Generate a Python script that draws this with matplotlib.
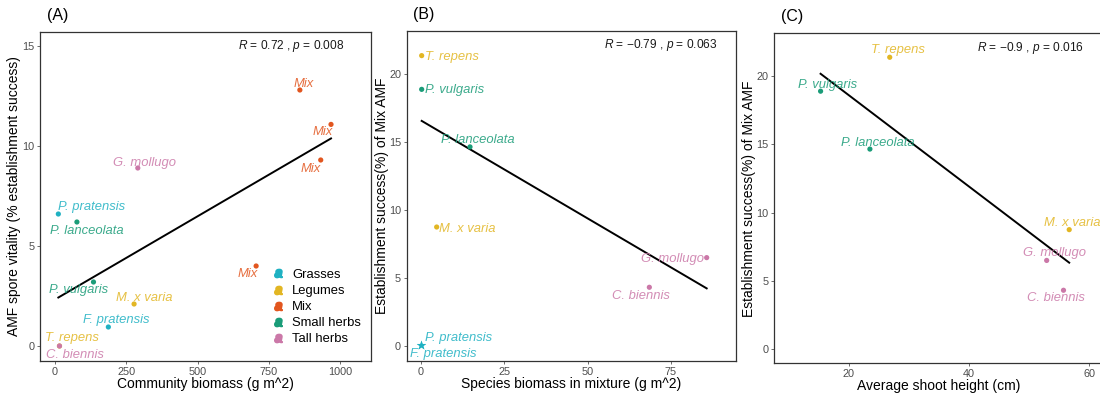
import numpy as np
import matplotlib
matplotlib.use("Agg")
import matplotlib.pyplot as plt
from matplotlib.lines import Line2D
from matplotlib.legend_handler import HandlerTuple

plt.rcParams['font.family'] = ['Liberation Sans', 'DejaVu Sans']
plt.rcParams['mathtext.fontset'] = 'custom'
plt.rcParams['mathtext.it'] = 'Liberation Sans:italic'
plt.rcParams['mathtext.rm'] = 'Liberation Sans'

# --- couleurs par groupe
group_colors = {
    'Grasses': '#1fb1c2',
    'Legumes': '#e2b623',
    'Mix': '#e2561f',
    'Small herbs': '#1a9c78',
    'Tall herbs': '#cb78a8',
}
group_order = ['Grasses', 'Legumes', 'Mix', 'Small herbs', 'Tall herbs']

# --- (A) communautés
species_a = ['Mix', 'Mix', 'Mix', 'Mix', 'G. mollugo', 'P. pratensis', 'P. lanceolata',
             'P. vulgaris', 'M. x varia', 'F. pratensis', 'T. repens', 'C. biennis']
group_a = ['Mix', 'Mix', 'Mix', 'Mix', 'Tall herbs', 'Grasses', 'Small herbs',
           'Small herbs', 'Legumes', 'Grasses', 'Legumes', 'Tall herbs']
community_biomass = [858, 967, 931, 705, 291, 13, 78, 136, 278, 188, 17, 17]
spore_vitality = [12.8, 11.08, 9.3, 4.0, 8.9, 6.6, 6.2, 3.2, 2.1, 0.95, 0.0, 0.0]

# --- (B) / (C) espèces en mélange
species_bc = ['T. repens', 'P. vulgaris', 'P. lanceolata', 'M. x varia', 'G. mollugo', 'C. biennis']
group_bc = ['Legumes', 'Small herbs', 'Small herbs', 'Legumes', 'Tall herbs', 'Tall herbs']
establishment = [21.35, 18.87, 14.64, 8.75, 6.5, 4.32]
species_biomass = [0.2, 0.2, 14.7, 4.7, 85.7, 68.5]
shoot_height = [26.8, 15.3, 23.5, 56.65, 52.9, 55.7]

# graminées (absentes de la régression, B seulement)
grass_species = ['P. pratensis', 'F. pratensis']
grass_biomass = [0.0, 0.0]
grass_establishment = [0.1, 0.1]

stats_text = {
    'A': '$R$ = 0.72 , $p$ = 0.008',
    'B': '$R$ = \u22120.79 , $p$ = 0.063',
    'C': '$R$ = \u22120.9 , $p$ = 0.016',
}

# décalages des étiquettes (pixels) : (dx, dy, ha)
offsets_a = [(4, 6, 'center'), (-8, -8, 'center'), (-10, -9, 'center'), (-8, -8, 'center'),
             (7, 5, 'center'), (33, 7, 'center'), (10, -9, 'center'), (-15, -8, 'center'),
             (10, 6, 'center'), (8, 7, 'center'), (12, 8, 'center'), (15, -9, 'center')]
offsets_b = [(3, -1, 'left'), (3, -1, 'left'), (8, 7, 'center'), (2, -2, 'left'),
             (-3, -1, 'right'), (-8, -9, 'center')]
offsets_b_grass = [(38, 7, 'center'), (22, -9, 'center')]
offsets_c = [(8, 7, 'center'), (7, 6, 'center'), (8, 6, 'center'), (3, 7, 'center'),
             (8, 7, 'center'), (-8, -8, 'center')]

fig = plt.figure(figsize=(11, 4), dpi=100)
ax_a = fig.add_axes([0.0364, 0.0975, 0.3009, 0.8225])
ax_b = fig.add_axes([0.3697, 0.0975, 0.2991, 0.8250])
ax_c = fig.add_axes([0.7039, 0.0917, 0.2990, 0.8250])


def style_axis(ax):
    for s in ax.spines.values():
        s.set_color('#333333')
        s.set_linewidth(0.9)
    ax.tick_params(direction='out', length=2.5, width=0.6, color='#555555',
                   labelsize=7.8, labelcolor='#4d4d4d', pad=1.5)


def label_points(ax, xs, ys, names, groups, offs):
    for x, y, n, g, (dx, dy, ha) in zip(xs, ys, names, groups, offs):
        ax.annotate(n, (x, y), xytext=(dx, dy), textcoords='offset pixels',
                    ha=ha, va='center', fontsize=9.4, style='italic',
                    color=group_colors[g], alpha=0.85, annotation_clip=False)


def fit_line(ax, xs, ys):
    xs = np.asarray(xs, float)
    ys = np.asarray(ys, float)
    k, b = np.polyfit(xs, ys, 1)
    xx = np.array([xs.min(), xs.max()])
    ax.plot(xx, k * xx + b, color='black', lw=1.4, zorder=3)


# ---------------- (A)
cols_a = [group_colors[g] for g in group_a]
ax_a.scatter(community_biomass, spore_vitality, c=cols_a, s=14, zorder=4, linewidths=0)
fit_line(ax_a, community_biomass, spore_vitality)
label_points(ax_a, community_biomass, spore_vitality, species_a, group_a, offsets_a)
ax_a.set_xlim(-51, 1107)
ax_a.set_ylim(-0.75, 15.7)
ax_a.set_xticks([0, 250, 500, 750, 1000])
ax_a.set_yticks([0, 5, 10, 15])
ax_a.set_xlabel('Community biomass (g m^2)', fontsize=10, labelpad=0)
ax_a.set_ylabel('AMF spore vitality (% establishment success)', fontsize=10, labelpad=1)

handles = [(Line2D([], [], ls='', marker='$a$', ms=6, color=group_colors[g]),
            Line2D([], [], ls='', marker='o', ms=3.8, color=group_colors[g]))
           for g in group_order]
ax_a.legend(handles, group_order, handler_map={tuple: HandlerTuple(ndivide=1)},
            loc='upper left', bbox_to_anchor=(0.698, 0.28), frameon=False,
            fontsize=9.4, handlelength=1.0, handletextpad=0.6, labelspacing=0.3,
            borderpad=0, borderaxespad=0)

# ---------------- (B)
cols_b = [group_colors[g] for g in group_bc]
ax_b.scatter(species_biomass, establishment, c=cols_b, s=14, zorder=4, linewidths=0)
ax_b.scatter(grass_biomass, grass_establishment, c=group_colors['Grasses'], marker='*',
             s=50, zorder=4, linewidths=0)
fit_line(ax_b, species_biomass, establishment)
label_points(ax_b, species_biomass, establishment, species_bc, group_bc, offsets_b)
label_points(ax_b, grass_biomass, grass_establishment, grass_species,
             ['Grasses', 'Grasses'], offsets_b_grass)
ax_b.set_xlim(-4.3, 94.4)
ax_b.set_ylim(-1.1, 23.16)
ax_b.set_xticks([0, 25, 50, 75])
ax_b.set_yticks([0, 5, 10, 15, 20])
ax_b.set_xlabel('Species biomass in mixture (g m^2)', fontsize=10, labelpad=0)
ax_b.set_ylabel('Establishment success(%) of Mix AMF', fontsize=10, labelpad=0)

# ---------------- (C)
ax_c.scatter(shoot_height, establishment, c=cols_b, s=14, zorder=4, linewidths=0)
fit_line(ax_c, shoot_height, establishment)
label_points(ax_c, shoot_height, establishment, species_bc, group_bc, offsets_c)
ax_c.set_xlim(7.6, 62.3)
ax_c.set_ylim(-1.02, 23.1)
ax_c.set_xticks([20, 40, 60])
ax_c.set_yticks([0, 5, 10, 15, 20])
ax_c.set_xlabel('Average shoot height (cm)', fontsize=10, labelpad=0)
ax_c.set_ylabel('Establishment success(%) of Mix AMF', fontsize=10, labelpad=0)

for ax, key, tx, ty in [(ax_a, 'A', 0.918, 0.957), (ax_b, 'B', 0.945, 0.957),
                        (ax_c, 'C', 0.94, 0.955)]:
    style_axis(ax)
    ax.text(tx, ty, stats_text[key], transform=ax.transAxes, ha='right', va='center',
            fontsize=8.6, color='#1a1a1a')
    ax.text(0.02, 1.05, f'({key})', transform=ax.transAxes, ha='left', va='center',
            fontsize=11.5, color='black')

fig.savefig('out.png', dpi=100)
